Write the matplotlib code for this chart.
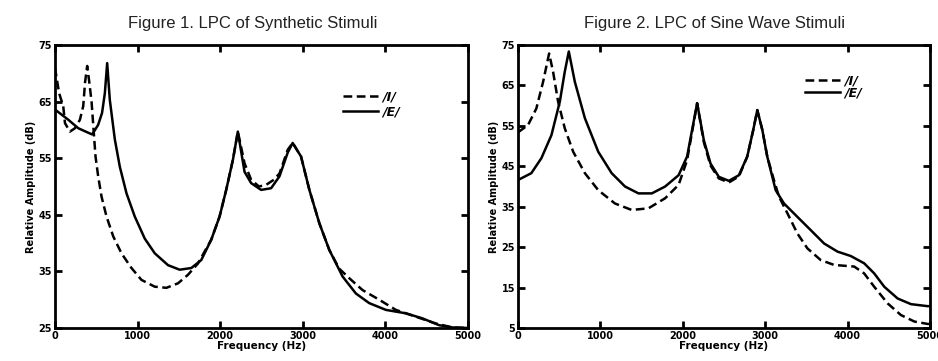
import matplotlib.pyplot as plt

# Figure 1: LPC of synthetic stimuli
syn_i_freq = [0, 50, 100, 121, 181, 242, 302, 342, 365, 390, 415, 443, 465,
              491, 523, 564, 624, 705, 805, 926, 1047, 1208, 1349, 1490, 1610,
              1731, 1892, 1993, 2073, 2154, 2214, 2295, 2375, 2470, 2557,
              2650, 2718, 2818, 2878, 2979, 3080, 3201, 3321, 3440, 3563,
              3724, 3925, 4127, 4368, 4610, 4811, 5000]
syn_i_db = [71.0, 66.5, 64.2, 61.2, 59.7, 60.3, 61.8, 64.2, 68.5, 71.3, 68.5,
            65.0, 60.5, 55.3, 51.8, 48.2, 44.7, 41.2, 38.2, 35.6, 33.5, 32.3,
            32.1, 32.9, 34.4, 36.4, 40.6, 44.7, 49.4, 54.7, 59.7, 54.1, 51.2,
            50.0, 50.3, 51.2, 52.3, 56.5, 57.7, 55.3, 49.4, 43.5, 38.8, 35.5,
            33.8, 31.7, 30.0, 28.2, 27.0, 25.8, 25.1, 25.0]

syn_e_freq = [0, 161, 282, 403, 451, 523, 570, 604, 632, 664, 725, 785, 866,
              966, 1087, 1208, 1369, 1510, 1651, 1771, 1892, 1993, 2073, 2154,
              2214, 2295, 2375, 2496, 2617, 2718, 2818, 2878, 2979, 3080,
              3201, 3321, 3482, 3643, 3804, 4006, 4247, 4449, 4650, 4811,
              5000]
syn_e_db = [63.6, 61.8, 60.3, 59.5, 59.2, 60.9, 63.0, 66.5, 71.8, 65.3, 58.3,
            53.5, 48.8, 44.7, 40.8, 38.2, 36.1, 35.3, 35.6, 37.0, 40.6, 44.7,
            49.4, 54.7, 59.7, 52.6, 50.6, 49.4, 49.7, 51.8, 56.0, 57.7, 55.3,
            49.4, 43.5, 38.8, 34.1, 31.1, 29.4, 28.2, 27.6, 26.7, 25.5, 25.1,
            25.0]

# Figure 2: LPC of sine wave stimuli
sine_i_freq = [0, 122, 223, 305, 378, 426, 487, 568, 670, 812, 974, 1177,
               1380, 1583, 1786, 1949, 2052, 2113, 2174, 2255, 2336, 2437,
               2559, 2681, 2782, 2855, 2904, 2965, 3025, 3100, 3167, 3269,
               3390, 3512, 3674, 3836, 4080, 4201, 4323, 4485, 4647, 4810,
               4972, 5000]
sine_i_db = [53.4, 55.2, 59.3, 65.9, 72.9, 68.4, 61.0, 54.4, 48.6, 43.3, 39.1,
             35.8, 34.2, 34.6, 37.1, 40.4, 46.5, 53.5, 60.6, 51.0, 45.2, 42.0,
             41.0, 42.5, 47.4, 54.0, 58.9, 54.0, 47.4, 42.0, 37.5, 33.4, 28.4,
             24.7, 21.8, 20.6, 20.2, 18.5, 15.2, 11.1, 8.2, 6.6, 6.0, 6.0]

sine_e_freq = [0, 162, 284, 406, 508, 568, 617, 690, 812, 974, 1137, 1299,
               1462, 1624, 1786, 1949, 2052, 2113, 2174, 2255, 2336, 2437,
               2559, 2681, 2782, 2855, 2904, 2965, 3025, 3127, 3228, 3390,
               3553, 3715, 3877, 4039, 4201, 4323, 4445, 4607, 4769, 4972,
               5000]
sine_e_db = [41.6, 43.3, 47.0, 52.7, 61.0, 68.4, 73.4, 65.9, 56.9, 48.6, 43.3,
             40.0, 38.3, 38.3, 40.0, 42.8, 47.4, 54.0, 60.6, 51.5, 45.7, 42.4,
             41.4, 42.8, 47.4, 54.0, 58.9, 54.0, 47.4, 39.1, 35.8, 32.5, 29.2,
             25.9, 23.9, 22.8, 21.0, 18.5, 15.2, 12.3, 10.9, 10.4, 10.4]

titles = ["Figure 1. LPC of Synthetic Stimuli",
          "Figure 2. LPC of Sine Wave Stimuli"]
x_ticks = [0, 1000, 2000, 3000, 4000, 5000]
y_ticks_syn = [25, 35, 45, 55, 65, 75]
y_ticks_sine = [5, 15, 25, 35, 45, 55, 65, 75]
legend_labels = ["/I/", "/E/"]


def style_axes(ax, yticks):
    ax.set_xlim(0, 5000)
    ax.set_ylim(yticks[0], yticks[-1])
    ax.set_xticks(x_ticks)
    ax.set_yticks(yticks)
    ax.tick_params(direction="in", length=5, width=2, top=True, right=True,
                   labelsize=7, pad=2)
    for label in ax.get_xticklabels() + ax.get_yticklabels():
        label.set_fontweight("bold")
    for spine in ax.spines.values():
        spine.set_linewidth(2)
    ax.set_xlabel("Frequency (Hz)", fontsize=7.5, fontweight="bold", labelpad=0)
    ax.set_ylabel("Relative Amplitude (dB)", fontsize=7, fontweight="bold",
                  labelpad=2)


def draw_panel(ax, i_freq, i_db, e_freq, e_db, yticks, anchor, spacing):
    ax.plot(i_freq, i_db, color="black", lw=1.8, ls=(0, (3.5, 1.8)),
            label=legend_labels[0])
    ax.plot(e_freq, e_db, color="black", lw=1.8, label=legend_labels[1])
    style_axes(ax, yticks)
    ax.legend(loc="upper left", bbox_to_anchor=anchor, frameon=False,
              handlelength=2.8, labelspacing=spacing, handletextpad=0.35,
              borderpad=0, borderaxespad=0,
              prop={"weight": "bold", "size": 9, "style": "italic"})


def main():
    fig = plt.figure(figsize=(9.38, 3.61), dpi=100)

    ax1 = fig.add_axes([0.0586, 0.0914, 0.4403, 0.7839])
    draw_panel(ax1, syn_i_freq, syn_i_db, syn_e_freq, syn_e_db,
               y_ticks_syn, (0.697, 0.84), 0.15)

    ax2 = fig.add_axes([0.5522, 0.0914, 0.4393, 0.7839])
    draw_panel(ax2, sine_i_freq, sine_i_db, sine_e_freq, sine_e_db,
               y_ticks_sine, (0.697, 0.897), -0.05)

    fig.text(0.269, 0.936, titles[0], ha="center", va="center", fontsize=12,
             family="Liberation Sans", color="#222222")
    fig.text(0.762, 0.936, titles[1], ha="center", va="center", fontsize=12,
             family="Liberation Sans", color="#222222")

    fig.savefig("out.png", dpi=100)


if __name__ == "__main__":
    main()
